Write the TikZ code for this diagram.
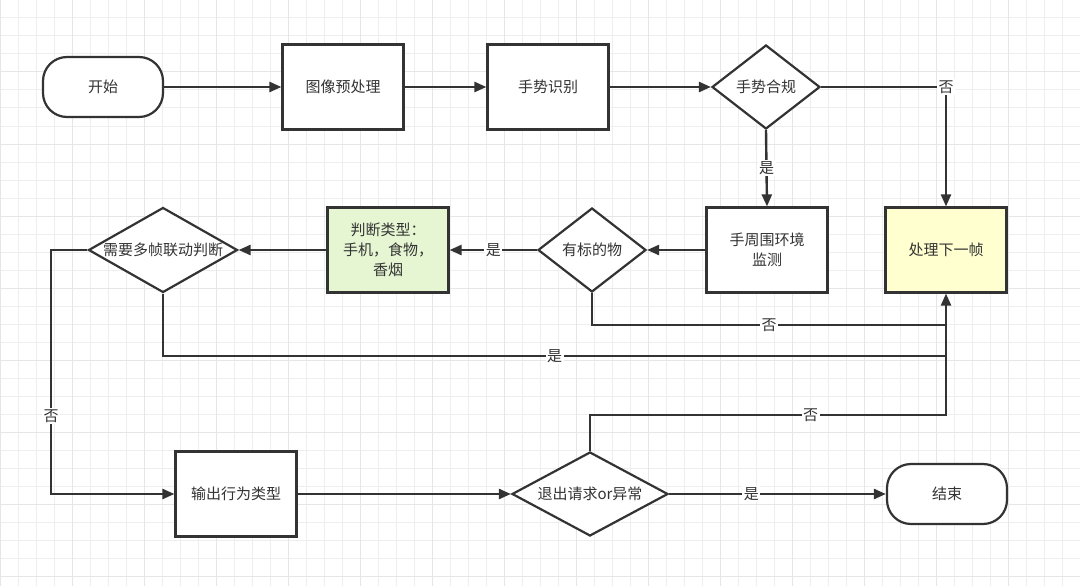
\documentclass[tikz,border=0pt]{standalone}
\usepackage{fontspec}
\setmainfont{Noto Sans CJK SC}
\usetikzlibrary{shapes.geometric,arrows.meta}
\definecolor{ink}{HTML}{333333}
\definecolor{gridminor}{HTML}{EEEEEE}
\definecolor{gridmajor}{HTML}{E6E6E6}
\definecolor{greenfill}{HTML}{E6F6D2}
\definecolor{yellowfill}{HTML}{FFFFD0}
\tikzset{
  base/.style={draw=ink, line width=2.2pt, text=ink, font=\fontsize{15}{20}\selectfont, align=center},
  box/.style={base, rectangle, fill=white, minimum width=121pt, minimum height=85pt, inner sep=2pt},
  term/.style={base, rectangle, rounded corners=24pt, fill=white, minimum width=120pt, minimum height=60pt},
  dia/.style={base, diamond, fill=white, inner sep=0pt, aspect=1.29, minimum width=108pt, minimum height=84pt},
  arr/.style={draw=ink, line width=2.4pt, -{Triangle[length=12pt,width=10pt]}},
  ln/.style={draw=ink, line width=2.4pt},
  lbl/.style={fill=white, text=ink, inner sep=1.5pt, font=\fontsize{15}{16}\selectfont}
}
\begin{document}
\begin{tikzpicture}[x=1pt,y=-1pt]
\useasboundingbox (0,0) rectangle (1080,586);
\fill[white] (0,0) rectangle (1080,586);
% grid
\foreach \x in {0,18,...,1080} \draw[gridminor, line width=1pt] (\x,0) -- (\x,586);
\foreach \y in {0,18,...,586} \draw[gridminor, line width=1pt] (0,\y) -- (1080,\y);
\foreach \x in {0,72,...,1080} \draw[gridmajor, line width=1pt] (\x,0) -- (\x,586);
\foreach \y in {0,72,...,586} \draw[gridmajor, line width=1pt] (0,\y) -- (1080,\y);

% nodes
\node[term] (start) at (103,87) {开始};
\node[box] (pre) at (343,87) {图像预处理};
\node[box] (rec) at (548,87) {手势识别};
\node[dia] (ok) at (766,87) {手势合规};
\node[box] (env) at (767,250) {手周围环境\\监测};
\node[box, fill=yellowfill] (next) at (946,250) {处理下一帧};
\node[dia] (obj) at (592,250) {有标的物};
\node[box, fill=greenfill] (type) at (388,250) {判断类型：\\手机，食物，\\香烟};
\node[dia, aspect=1.75, minimum width=149pt, minimum height=85pt] (multi) at (163,250) {需要多帧联动判断};
\node[box] (out) at (236,494) {输出行为类型};
\node[dia, aspect=1.86, minimum width=156pt, minimum height=84pt] (quit) at (590,494) {退出请求or异常};
\node[term] (end) at (947,494) {结束};

% junction coordinates
\coordinate (jA) at (946,325);
\coordinate (jB) at (946,356);
\coordinate (jC) at (946,415);
\coordinate (cL) at (51,250);

% connectors
\draw[arr] (start) -- (pre);
\draw[arr] (pre) -- (rec);
\draw[arr] (rec) -- (ok);
\draw[arr] (ok.east) -| node[lbl]{否} (next.north);
\draw[arr] (ok.south) -- node[lbl]{是} (env.north);
\draw[arr] (env.west) -- (obj.east);
\draw[arr] (obj.west) -- node[lbl]{是} (type.east);
\draw[arr] (type.west) -- (multi.east);
\draw[ln] (obj.south) |- node[lbl, pos=0.75]{否} (jA);
\draw[ln] (multi.south) |- node[lbl, pos=0.75]{是} (jB);
\draw[arr] (multi.west) -- (cL) |- node[lbl, pos=0.34]{否} (out.west);
\draw[arr] (out.east) -- (quit.west);
\draw[arr] (quit.east) -- node[lbl, pos=0.38]{是} (end.west);
\draw[arr] (quit.north) |- node[lbl, pos=0.81]{否} (jC) -- (next.south);
\end{tikzpicture}
\end{document}
